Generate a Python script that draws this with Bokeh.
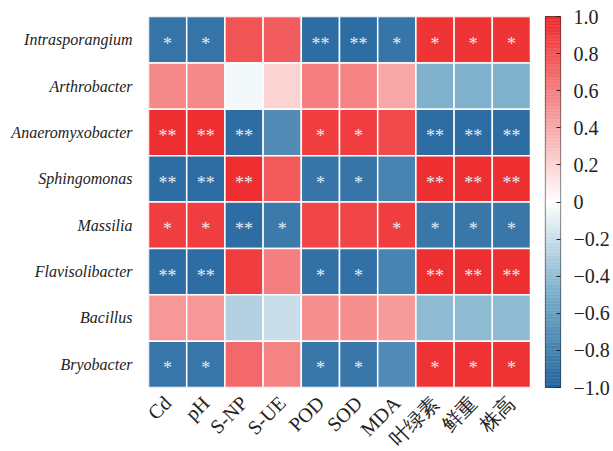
import numpy as np
from bokeh.plotting import figure
from bokeh.layouts import row
from bokeh.models import (ColumnDataSource, LinearColorMapper, FixedTicker,
                          CustomJSTickFormatter, Range1d)
from bokeh.core.properties import value
from bokeh.embed import file_html
from bokeh.resources import INLINE

rows = ["Intrasporangium", "Arthrobacter", "Anaeromyxobacter", "Sphingomonas",
        "Massilia", "Flavisolibacter", "Bacillus", "Bryobacter"]
cols = ["Cd", "pH", "S-NP", "S-UE", "POD", "SOD", "MDA", "叶绿素", "鲜重", "株高"]

vals = [
    [-0.89, -0.89, 0.80, 0.76, -0.93, -0.93, -0.88, 0.95, 0.95, 0.95],
    [0.56, 0.56, -0.04, 0.21, 0.60, 0.58, 0.41, -0.47, -0.47, -0.47],
    [0.97, 0.97, -0.93, -0.72, 0.90, 0.90, 0.85, -0.93, -0.93, -0.93],
    [-0.93, -0.93, 0.97, 0.78, -0.88, -0.88, -0.78, 0.97, 0.97, 0.97],
    [0.90, 0.90, -0.93, -0.85, 0.86, 0.86, 0.90, -0.86, -0.86, -0.86],
    [-0.93, -0.93, 0.90, 0.60, -0.91, -0.91, -0.78, 0.97, 0.97, 0.97],
    [0.49, 0.49, -0.28, -0.20, 0.53, 0.53, 0.47, -0.42, -0.42, -0.42],
    [-0.87, -0.87, 0.70, 0.58, -0.86, -0.86, -0.72, 0.96, 0.96, 0.96],
]

sig = [
    ["*", "*", "", "", "**", "**", "*", "*", "*", "*"],
    ["", "", "", "", "", "", "", "", "", ""],
    ["**", "**", "**", "", "*", "*", "", "**", "**", "**"],
    ["**", "**", "**", "", "*", "*", "", "**", "**", "**"],
    ["*", "*", "**", "*", "", "", "*", "*", "*", "*"],
    ["**", "**", "", "", "*", "*", "", "**", "**", "**"],
    ["", "", "", "", "", "", "", "", "", ""],
    ["*", "*", "", "", "*", "*", "", "*", "*", "*"],
]

cbar_ticks = [1.0, 0.8, 0.6, 0.4, 0.2, 0.0, -0.2, -0.4, -0.6, -0.8, -1.0]
cbar_labels = ["1.0", "0.8", "0.6", "0.4", "0.2", "0", "\u22120.2", "\u22120.4", "\u22120.6", "\u22120.8", "\u22121.0"]

# colour-map stops (value position 0..1, rgb)
cmap_stops = [(0.0, (35, 100, 158)), (0.25, (120, 173, 201)), (0.5, (255, 255, 255)), (1.0, (238, 42, 44))]


def cmap(t):
    for (t0, c0), (t1, c1) in zip(cmap_stops[:-1], cmap_stops[1:]):
        if t <= t1:
            f = (t - t0) / (t1 - t0)
            return tuple(int(round(a + (b - a) * f)) for a, b in zip(c0, c1))
    return cmap_stops[-1][1]


N = 256
palette = ["#%02x%02x%02x" % cmap(i / (N - 1)) for i in range(N)]

xs, ys, vs, ss = [], [], [], []
for i, r in enumerate(rows):
    for j, c in enumerate(cols):
        xs.append(c)
        ys.append(r)
        vs.append(vals[i][j])
        ss.append(sig[i][j])

src = ColumnDataSource(dict(x=xs, y=ys, v=vs, s=ss))
mapper = LinearColorMapper(palette=palette, low=-1, high=1)

p = figure(x_range=cols, y_range=list(reversed(rows)), output_backend="svg",
           toolbar_location=None, frame_width=382, frame_height=371,
           min_border_left=148, min_border_top=16, min_border_right=0, min_border_bottom=10)
p.rect(x="x", y="y", width=1, height=1, source=src,
       fill_color={"field": "v", "transform": mapper},
       line_color="white", line_width=1.5)
p.text(x="x", y="y", text="s", source=src, text_color="#e4ecf4",
       text_align="center", text_baseline="middle", y_offset=4,
       text_font=value("Liberation Serif"), text_font_size="18px")

p.outline_line_color = None
p.grid.grid_line_color = None
for ax in (p.xaxis, p.yaxis):
    ax.axis_line_color = None
    ax.major_tick_line_color = None
    ax.minor_tick_line_color = None
    ax.major_label_text_font = "Liberation Serif"
    ax.major_label_text_color = "#222222"
p.yaxis.major_label_text_font_style = "italic"
p.yaxis.major_label_text_font_size = "16px"
p.yaxis.major_label_standoff = 10
p.xaxis.major_label_text_font_size = "20px"
p.xaxis.major_label_standoff = 6
p.xaxis.major_label_orientation = np.pi / 4
p.x_range.range_padding = 0
p.y_range.range_padding = 0

# colour bar as its own small figure
edges = np.linspace(-1, 1, N + 1)
cb_src = ColumnDataSource(dict(b=edges[:-1], t=edges[1:], c=palette))
cbf = figure(x_range=Range1d(0, 1), y_range=Range1d(-1, 1), output_backend="svg",
             toolbar_location=None, frame_width=15, frame_height=371,
             min_border_left=15, min_border_top=16, min_border_right=2,
             min_border_bottom=10, y_axis_location="right")
cbf.quad(left=0, right=1, bottom="b", top="t", fill_color="c", line_color="c",
         line_width=0.5, source=cb_src)
cbf.xaxis.visible = False
cbf.grid.grid_line_color = None
cbf.outline_line_color = "#333333"
cbf.outline_line_width = 1.2
fmt = CustomJSTickFormatter(args=dict(tv=cbar_ticks, lb=cbar_labels), code="""
let best = 0, d = 1e9;
for (let i = 0; i < tv.length; i++) {
  const e = Math.abs(tv[i] - tick);
  if (e < d) { d = e; best = i; }
}
return lb[best];
""")
ya = cbf.yaxis[0]
ya.ticker = FixedTicker(ticks=cbar_ticks)
ya.formatter = fmt
ya.axis_line_color = None
ya.major_tick_in = 4
ya.major_tick_out = 0
ya.major_tick_line_color = "#222222"
ya.minor_tick_line_color = None
ya.major_label_standoff = 13
ya.major_label_text_font = "Liberation Serif"
ya.major_label_text_font_size = "20px"
ya.major_label_text_color = "#222222"

layout = row(p, cbf)
open("out.html", "w").write(file_html(layout, INLINE))
